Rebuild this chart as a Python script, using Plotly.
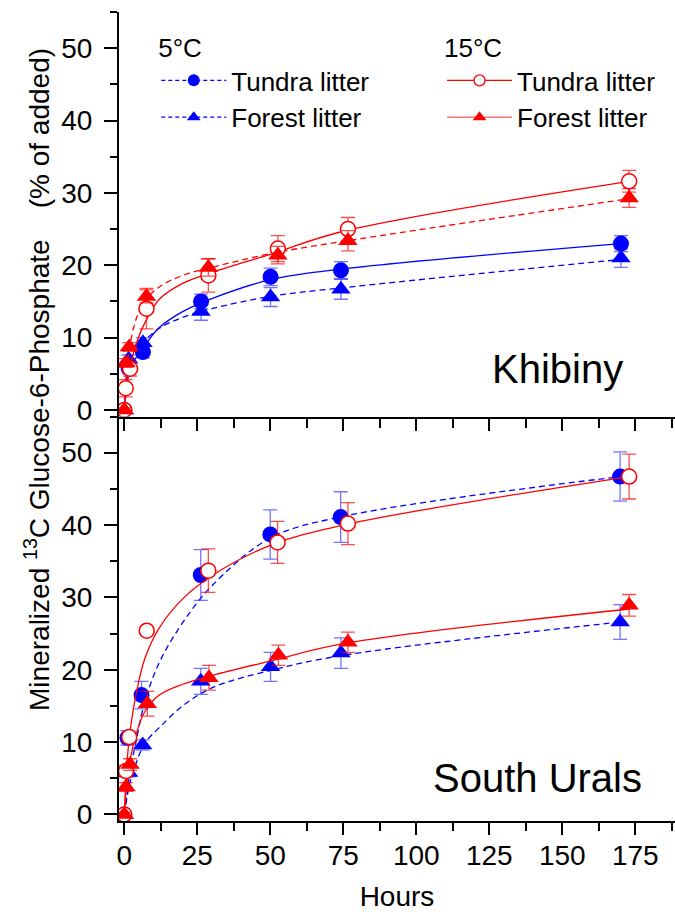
import plotly.graph_objects as go

FONT = "Liberation Sans, Arial, Helvetica, sans-serif"
BLUE = "#0000ff"
RED = "#ff0000"
BLUE_ERR = "rgba(40,40,255,0.65)"
RED_ERR = "rgba(255,0,0,0.7)"

# ---------------- Khibiny (top panel) measured points ----------------
kh_t5_tundra = [0, 1.5, 6.4, 26.3, 50.1, 74.2, 170.1]
kh_y5_tundra = [0, 5.8, 8.0, 15.0, 18.4, 19.3, 23.0]
kh_e5_tundra = [0.3, 0.8, 0.8, 1.0, 1.2, 1.2, 1.1]

kh_t5_forest = [0, 1.5, 6.4, 26.3, 50.1, 74.2, 170.1]
kh_y5_forest = [0, 7.0, 9.3, 13.6, 15.6, 16.7, 21.0]
kh_e5_forest = [0.3, 0.6, 0.7, 1.2, 1.3, 1.4, 1.3]

kh_t15_tundra = [0, 0.5, 2.0, 7.6, 28.8, 52.6, 76.6, 172.9]
kh_y15_tundra = [0, 3.0, 5.7, 14.0, 18.6, 22.3, 25.0, 31.6]
kh_e15_tundra = [0.3, 1.2, 1.0, 2.8, 2.3, 1.8, 1.6, 1.5]

kh_t15_forest = [0, 0.6, 1.7, 7.6, 28.8, 52.6, 76.6, 172.9]
kh_y15_forest = [0, 6.5, 8.7, 15.7, 19.7, 21.4, 23.4, 29.3]
kh_e15_forest = [0.3, 0.6, 0.6, 0.9, 1.2, 1.2, 1.4, 1.3]

# ---------------- South Urals (bottom panel) measured points ----------------
su_t5_tundra = [0, 1.1, 5.9, 26.2, 50.0, 74.1, 169.8]
su_y5_tundra = [0, 10.6, 16.5, 33.1, 38.7, 41.1, 46.7]
su_e5_tundra = [0.3, 1.0, 1.9, 3.5, 3.4, 3.5, 3.4]

su_t5_forest = [0, 1.5, 6.3, 26.2, 50.1, 74.2, 169.8]
su_y5_forest = [0, 5.8, 9.6, 18.4, 20.4, 22.3, 26.6]
su_e5_forest = [0.3, 0.6, 0.7, 1.8, 2.0, 2.1, 2.4]

su_t15_tundra = [0, 0.6, 1.7, 7.7, 28.8, 52.5, 76.6, 172.9]
su_y15_tundra = [0, 6.0, 10.7, 25.4, 33.7, 37.6, 40.2, 46.7]
su_e15_tundra = [0.3, 0.8, 0.7, 0.5, 3.0, 2.9, 2.9, 3.1]

su_t15_forest = [0, 0.6, 2.0, 7.9, 29.0, 52.8, 76.6, 172.9]
su_y15_forest = [0, 3.8, 6.9, 15.3, 18.9, 22.0, 23.8, 28.9]
su_e15_forest = [0.3, 0.6, 0.8, 1.7, 1.7, 1.4, 1.4, 1.5]

# ---------------- fitted curves ----------------
fit_hours_5C = [0, 1, 2, 4, 7, 12, 20, 30, 50, 75, 170]
fit_hours_15C = [0, 1, 2, 4, 7, 12, 20, 30, 50, 75, 173]

kh_fit5_tundra = [0, 4.0, 5.8, 7.2, 8.9, 11.4, 13.6, 15.4, 18.0, 19.5, 23.0]
kh_fit5_forest = [0, 5.5, 7.0, 8.3, 9.6, 11.3, 12.8, 14.0, 15.7, 16.9, 20.8]
kh_fit15_tundra = [0, 3.5, 6.0, 9.0, 12.0, 15.3, 17.5, 19.0, 21.5, 24.7, 31.6]
kh_fit15_forest = [0, 6.0, 9.0, 12.5, 15.0, 17.0, 18.6, 19.7, 21.6, 23.3, 29.2]

su_fit5_tundra = [0, 3.0, 6.0, 10.0, 15.5, 21.0, 26.5, 31.6, 38.2, 41.2, 46.7]
su_fit5_forest = [0, 2.5, 4.5, 7.0, 9.8, 12.0, 15.0, 17.5, 19.9, 22.0, 26.6]
su_fit15_tundra = [0, 7.5, 11.5, 16.5, 21.5, 25.8, 29.8, 33.0, 37.2, 40.0, 46.7]
su_fit15_forest = [0, 4.8, 7.5, 11.0, 14.2, 16.5, 18.0, 19.2, 21.2, 23.6, 28.4]

x_ticks = [0, 25, 50, 75, 100, 125, 150, 175]
y_ticks = [0, 10, 20, 30, 40, 50]
XR = [-1.8, 188.6]
YR = [-0.9, 55]

fig = go.Figure()


def add_fit(x, y, xa, ya, color, dash):
    fig.add_trace(go.Scatter(x=x, y=y, xaxis=xa, yaxis=ya, mode="lines",
                             line=dict(color=color, width=1.3, dash=dash, shape="spline"),
                             showlegend=False, hoverinfo="skip"))


def add_pts(x, y, e, xa, ya, color, ecolor, symbol, size, fill):
    fig.add_trace(go.Scatter(
        x=x, y=y, xaxis=xa, yaxis=ya, mode="markers",
        marker=dict(symbol=symbol, size=size, color=fill,
                    line=dict(color=color, width=1.5 if fill == "white" else 0)),
        error_y=dict(type="data", array=e, visible=True, color=ecolor,
                     thickness=1.3, width=7),
        showlegend=False))


DASH = "6px,4px"
# Khibiny
add_fit(fit_hours_5C, kh_fit5_forest, "x", "y", BLUE, DASH)
add_fit(fit_hours_5C, kh_fit5_tundra, "x", "y", BLUE, "solid")
add_pts(kh_t5_forest, kh_y5_forest, kh_e5_forest, "x", "y", BLUE, BLUE_ERR, "triangle-up", 17, BLUE)
add_pts(kh_t5_tundra, kh_y5_tundra, kh_e5_tundra, "x", "y", BLUE, BLUE_ERR, "circle", 16, BLUE)
add_fit(fit_hours_15C, kh_fit15_forest, "x", "y", RED, DASH)
add_fit(fit_hours_15C, kh_fit15_tundra, "x", "y", RED, "solid")
add_pts(kh_t15_tundra, kh_y15_tundra, kh_e15_tundra, "x", "y", RED, RED_ERR, "circle", 15, "white")
add_pts(kh_t15_forest, kh_y15_forest, kh_e15_forest, "x", "y", RED, RED_ERR, "triangle-up", 17, RED)

# South Urals
add_fit(fit_hours_5C, su_fit5_forest, "x2", "y2", BLUE, DASH)
add_fit(fit_hours_5C, su_fit5_tundra, "x2", "y2", BLUE, DASH)
add_pts(su_t5_forest, su_y5_forest, su_e5_forest, "x2", "y2", BLUE, BLUE_ERR, "triangle-up", 17, BLUE)
add_pts(su_t5_tundra, su_y5_tundra, su_e5_tundra, "x2", "y2", BLUE, BLUE_ERR, "circle", 16, BLUE)
add_fit(fit_hours_15C, su_fit15_forest, "x2", "y2", RED, "solid")
add_fit(fit_hours_15C, su_fit15_tundra, "x2", "y2", RED, "solid")
add_pts(su_t15_tundra, su_y15_tundra, su_e15_tundra, "x2", "y2", RED, RED_ERR, "circle", 15, "white")
add_pts(su_t15_forest, su_y15_forest, su_e15_forest, "x2", "y2", RED, RED_ERR, "triangle-up", 17, RED)

# legend entries (no data, legend only)
LEG_DASH = "4px,3px"
fig.add_trace(go.Scatter(x=[None], y=[None], mode="lines+markers", name="Tundra litter",
                         legend="legend",
                         line=dict(color=BLUE, width=1.2, dash=LEG_DASH),
                         marker=dict(symbol="circle", size=12, color=BLUE)))
fig.add_trace(go.Scatter(x=[None], y=[None], mode="lines+markers", name="Forest litter",
                         legend="legend",
                         line=dict(color=BLUE, width=1.2, dash=LEG_DASH),
                         marker=dict(symbol="triangle-up", size=12, color=BLUE)))
fig.add_trace(go.Scatter(x=[None], y=[None], mode="lines+markers", name="Tundra litter",
                         legend="legend2",
                         line=dict(color=RED, width=1.2),
                         marker=dict(symbol="circle", size=11, color="white",
                                     line=dict(color=RED, width=1.3))))
fig.add_trace(go.Scatter(x=[None], y=[None], mode="lines+markers", name="Forest litter",
                         legend="legend2",
                         line=dict(color="#ff6f6f", width=1.5),
                         marker=dict(symbol="triangle-up", size=12, color=RED)))

tickfont = dict(family=FONT, size=28, color="black")
common = dict(showgrid=False, zeroline=False, showline=True, linewidth=2,
              linecolor="black", tickcolor="black", tickwidth=2)


def xax(**kw):
    d = dict(common, range=XR, tickmode="array", tickvals=x_ticks,
             minor=dict(dtick=12.5, tick0=0, tickwidth=2, tickcolor="black"))
    d.update(kw)
    return d


def yax(**kw):
    d = dict(common, range=YR, tickmode="array", tickvals=y_ticks,
             minor=dict(dtick=5, tick0=0, tickwidth=2, tickcolor="black"))
    d.update(kw)
    return d


fig.update_layout(
    width=675, height=916,
    margin=dict(l=119, r=0, t=12, b=95),
    plot_bgcolor="white", paper_bgcolor="white",
    font=dict(family=FONT, color="black"),
    xaxis=xax(domain=[0, 1], anchor="y", ticks="outside", ticklen=12,
              showticklabels=False,
              minor=dict(dtick=12.5, tick0=0, ticks="outside", ticklen=9, tickwidth=2, tickcolor="black")),
    yaxis=yax(domain=[0.5, 1], anchor="x", ticks="outside", ticklen=13,
              tickfont=tickfont, ticklabelstandoff=6,
              minor=dict(dtick=5, tick0=0, ticks="outside", ticklen=7, tickwidth=2, tickcolor="black")),
    xaxis3=xax(overlaying="x", side="top", anchor="y", ticks="inside", ticklen=12,
               showticklabels=False,
               minor=dict(dtick=12.5, tick0=0, ticks="inside", ticklen=9, tickwidth=2, tickcolor="black")),
    yaxis3=yax(overlaying="y", side="right", anchor="x", ticks="inside", ticklen=7,
               showticklabels=False,
               minor=dict(dtick=5, tick0=0, ticks="inside", ticklen=3, tickwidth=2, tickcolor="black")),
    xaxis2=xax(domain=[0, 1], anchor="y2", ticks="outside", ticklen=12,
               tickfont=tickfont, ticklabelstandoff=-4,
               title=dict(text="Hours", font=dict(family=FONT, size=28), standoff=17),
               minor=dict(dtick=12.5, tick0=0, ticks="outside", ticklen=8, tickwidth=2, tickcolor="black")),
    yaxis2=yax(domain=[0, 0.5], anchor="x2", ticks="outside", ticklen=13,
               tickfont=tickfont, ticklabelstandoff=6,
               minor=dict(dtick=5, tick0=0, ticks="outside", ticklen=7, tickwidth=2, tickcolor="black")),
    xaxis4=xax(overlaying="x2", side="top", anchor="y2", ticks="inside", ticklen=12,
               showticklabels=False,
               minor=dict(dtick=12.5, tick0=0, ticks="inside", ticklen=9, tickwidth=2, tickcolor="black")),
    yaxis4=yax(overlaying="y2", side="right", anchor="x2", ticks="inside", ticklen=7,
               showticklabels=False,
               minor=dict(dtick=5, tick0=0, ticks="inside", ticklen=3, tickwidth=2, tickcolor="black")),
    legend=dict(x=0.067, y=0.9862, xanchor="left", yanchor="top",
                title=dict(text="5°C", font=dict(family=FONT, size=26)),
                font=dict(family=FONT, size=26), itemwidth=65, itemsizing="trace",
                bgcolor="rgba(0,0,0,0)", tracegroupgap=0),
    legend2=dict(x=0.581, y=0.9862, xanchor="left", yanchor="top",
                 title=dict(text="15°C", font=dict(family=FONT, size=26)),
                 font=dict(family=FONT, size=26), itemwidth=65, itemsizing="trace",
                 bgcolor="rgba(0,0,0,0)", tracegroupgap=0),
    annotations=[
        dict(text="Khibiny", x=148.5, y=5.7, xref="x", yref="y", showarrow=False,
             xanchor="center", yanchor="middle", font=dict(family=FONT, size=40)),
        dict(text="South Urals", x=141.6, y=5.1, xref="x2", yref="y2", showarrow=False,
             xanchor="center", yanchor="middle", font=dict(family=FONT, size=40)),
        dict(text="Mineralized <sup>13</sup>C Glucose-6-Phosphate    (% of added)",
             x=-0.1475, y=0.5464, xref="paper", yref="paper", showarrow=False,
             textangle=-90, xanchor="center", yanchor="middle",
             font=dict(family=FONT, size=28)),
    ],
)

fig.write_html("out.html", config={"displayModeBar": False},
               post_script="document.body.style.margin='0';")
